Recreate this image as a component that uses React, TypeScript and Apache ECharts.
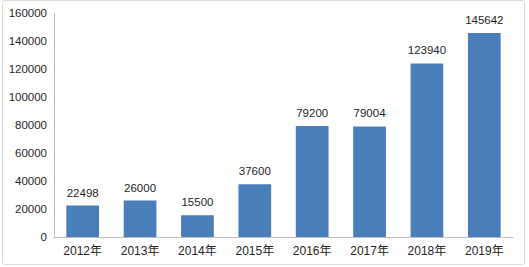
import React, { useEffect, useRef } from "react";
import * as echarts from "echarts";

const categories = ["2012年", "2013年", "2014年", "2015年", "2016年", "2017年", "2018年", "2019年"];
const values = [22498, 26000, 15500, 37600, 79200, 79004, 123940, 145642];
const yMin = 0;
const yMax = 160000;
const yInterval = 20000;

export default function App() {
  const ref = useRef<HTMLDivElement>(null);
  useEffect(() => {
    if (!ref.current) return;
    const chart = echarts.init(ref.current, undefined, { renderer: "svg" });
    chart.setOption({
      animation: false,
      backgroundColor: "#ffffff",
      graphic: [
        {
          type: "rect",
          shape: { x: 2.5, y: 0.5, width: 522, height: 264, r: 2 },
          style: { fill: "none", stroke: "#d9d9d9", lineWidth: 1 },
          silent: true,
        },
      ],
      grid: { left: 54, right: 16, top: 13, bottom: 30, containLabel: false },
      xAxis: {
        type: "category",
        data: categories,
        axisLine: { show: true, lineStyle: { color: "#bfbfbf", width: 1 } },
        axisTick: { show: false },
        axisLabel: {
          color: "#262626",
          fontSize: 12,
          fontFamily: "Liberation Sans, Noto Sans CJK SC, sans-serif",
          margin: 8,
        },
      },
      yAxis: {
        type: "value",
        min: yMin,
        max: yMax,
        interval: yInterval,
        axisLine: { show: true, lineStyle: { color: "#bfbfbf", width: 1 } },
        axisTick: { show: false },
        splitLine: { show: false },
        axisLabel: {
          color: "#262626",
          fontSize: 11.5,
          fontFamily: "Liberation Sans, sans-serif",
          margin: 7,
          formatter: (v: number) => String(v),
        },
      },
      series: [
        {
          type: "bar",
          data: values,
          barWidth: "57%",
          itemStyle: { color: "#4a7ebb" },
          label: {
            show: true,
            position: "top",
            distance: 7,
            color: "#262626",
            fontSize: 11.5,
            fontFamily: "Liberation Sans, sans-serif",
          },
        },
      ],
    });
    return () => chart.dispose();
  }, []);
  return (
    <div
      ref={ref}
      style={{ position: "fixed", left: 0, top: 0, width: 529, height: 267 }}
    />
  );
}
